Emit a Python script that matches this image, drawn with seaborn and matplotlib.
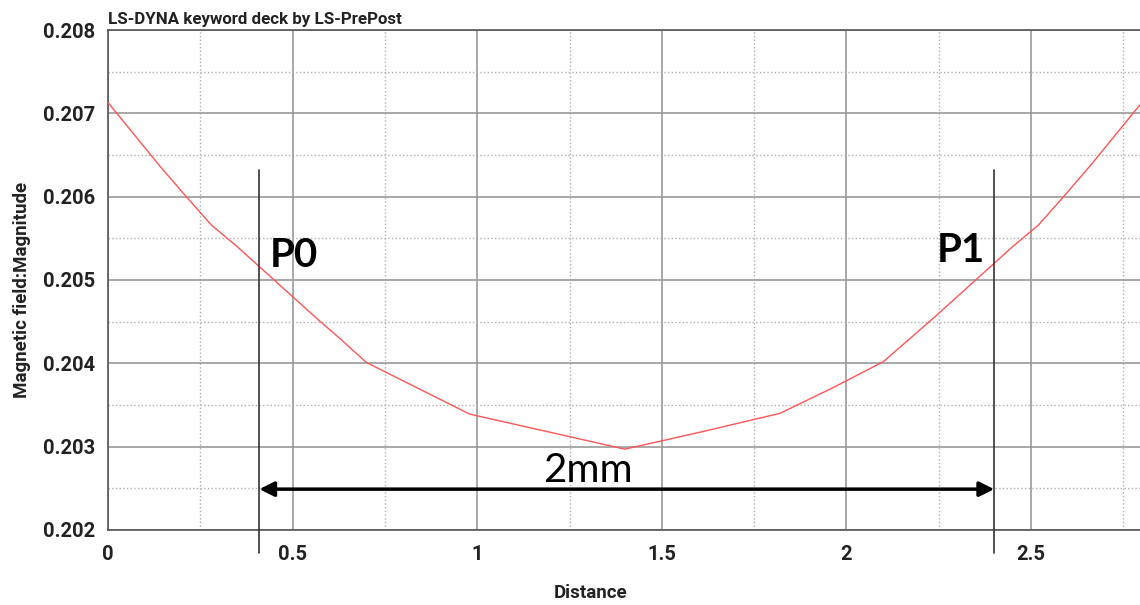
import numpy as np
import pandas as pd
import seaborn as sns
import matplotlib.pyplot as plt
from matplotlib.ticker import MultipleLocator, FormatStrFormatter

# values
distance = [0.00, 0.07, 0.14, 0.21, 0.28, 0.35, 0.42, 0.49, 0.56, 0.63, 0.70,
            0.84, 0.98, 1.19, 1.40, 1.61, 1.82, 1.96, 2.10, 2.17, 2.24, 2.31,
            2.38, 2.45, 2.52, 2.59, 2.66, 2.73, 2.80]
magnitude = [0.20713, 0.20675, 0.20637, 0.20601, 0.20566, 0.20540, 0.20512,
             0.20484, 0.20456, 0.20429, 0.20401, 0.20370, 0.20339, 0.20318,
             0.20297, 0.20318, 0.20340, 0.20370, 0.20402, 0.20429, 0.20456,
             0.20484, 0.20512, 0.20540, 0.20566, 0.20601, 0.20637, 0.20675,
             0.20713]

p0_x = 0.41
p1_x = 2.40
marker_top = 0.20632
marker_bottom = 0.20172
arrow_y = 0.20249
span_label = "2mm"

df = pd.DataFrame({"Distance": distance, "Magnitude": magnitude})

sns.set_theme()
sns.set_style("white")
plt.rcParams['font.family'] = ['Roboto', 'DejaVu Sans']

fig = plt.figure(figsize=(11.4, 6.05), dpi=100)
ax = fig.add_axes([0.0947, 0.124, 0.9053, 0.8264])

sns.lineplot(data=df, x="Distance", y="Magnitude", ax=ax, color="#ff5555",
             linewidth=1.0, zorder=3)

ax.set_xlim(0, 2.795)
ax.set_ylim(0.202, 0.208)
ax.xaxis.set_major_locator(MultipleLocator(0.5))
ax.xaxis.set_minor_locator(MultipleLocator(0.25))
ax.yaxis.set_major_locator(MultipleLocator(0.001))
ax.yaxis.set_minor_locator(MultipleLocator(0.0005))
ax.xaxis.set_major_formatter(FormatStrFormatter("%g"))
ax.yaxis.set_major_formatter(FormatStrFormatter("%.3f"))

ax.grid(which="major", color="#9a9a9a", linestyle="-", linewidth=1.2)
ax.grid(which="minor", color="#b0b0b0", linestyle=":", linewidth=1.0)
ax.set_axisbelow(True)

for side in ["left", "bottom", "top"]:
    ax.spines[side].set_color("#555555")
    ax.spines[side].set_linewidth(1.2)
ax.spines["right"].set_visible(False)

ax.tick_params(which="major", direction="inout", length=16, width=1.2,
               color="#555555", labelsize=14.5, pad=1)
ax.tick_params(which="minor", direction="in", length=8, width=1.2,
               color="#555555")
ax.tick_params(axis="x", which="major", pad=3)
for lab in ax.get_xticklabels() + ax.get_yticklabels():
    lab.set_fontweight("bold")
    lab.set_color("#222222")

ax.set_xlabel("Distance", fontsize=13.5, fontweight="bold", color="#222222",
              va="center")
ax.xaxis.set_label_coords(0.4675, -0.126)
ax.set_ylabel("Magnetic field:Magnitude", fontsize=13.5, fontweight="bold",
              color="#222222", va="center")
ax.yaxis.set_label_coords(-0.083, 0.48)
ax.set_title("LS-DYNA keyword deck by LS-PrePost", fontsize=12.2,
             fontweight="bold", loc="left", color="#222222", pad=4)

# P0 / P1 markers and the span arrow
for xv in [p0_x, p1_x]:
    ax.plot([xv, xv], [marker_bottom, marker_top], color="#333333",
            linewidth=1.2, clip_on=False, zorder=4)

ax.annotate("", xy=(p0_x, arrow_y), xytext=(p1_x, arrow_y),
            arrowprops=dict(arrowstyle="<|-|>", color="black", lw=2.5,
                            mutation_scale=22, shrinkA=0, shrinkB=0),
            zorder=5)

ax.text(0.438, 0.20516, "P0", fontsize=29, fontweight="bold", color="black",
        family=["Lato", "DejaVu Sans"], ha="left", va="baseline")
ax.text(2.244, 0.20522, "P1", fontsize=29, fontweight="bold", color="black",
        family=["Lato", "DejaVu Sans"], ha="left", va="baseline")
ax.text(1.30, 0.20258, span_label, fontsize=29, color="black",
        family=["Lato", "DejaVu Sans"], ha="center", va="baseline")

fig.savefig("out.png", dpi=100)
